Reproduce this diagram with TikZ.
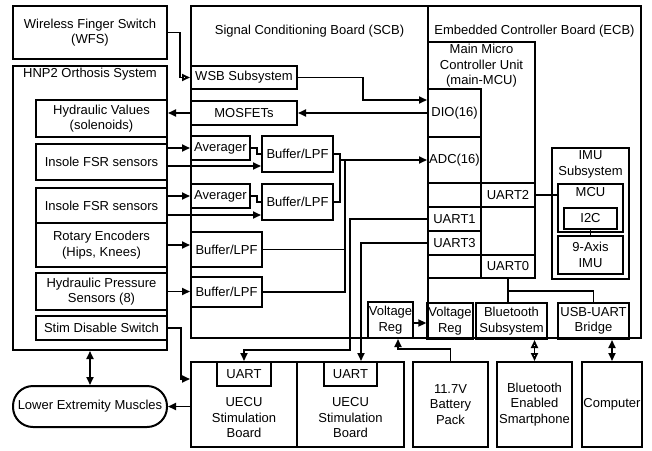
\documentclass[tikz,border=0pt]{standalone}
\usepackage{fontspec}
\setmainfont{Liberation Sans}
\usetikzlibrary{arrows.meta,positioning}

\tikzset{
  blk/.style={draw, line width=2pt, inner sep=1pt, align=center, font=\fontsize{13}{15.5}\selectfont},
  txt/.style={inner sep=0pt, align=center, font=\fontsize{13}{15.5}\selectfont},
  conn/.style={line width=1.8pt},
  arr/.style={conn, -{Triangle[length=8pt,width=7pt]}},
  darr/.style={conn, {Triangle[length=8pt,width=7pt]}-{Triangle[length=8pt,width=7pt]}},
  oarr/.style={conn, -{Triangle[open,length=8pt,width=7pt]}},
  odarr/.style={conn, {Triangle[open,length=8pt,width=7pt]}-{Triangle[open,length=8pt,width=7pt]}}
}

\begin{document}
\begin{tikzpicture}[x=1pt, y=-1pt]
    \useasboundingbox (0,0) rectangle (652,450);

    % Orthosis side
    \node[blk, minimum width=154pt, minimum height=53pt] (wfs) at (90,32.5) {Wireless Finger Switch\\(WFS)};
    \node[blk, minimum width=154pt, minimum height=284pt] (hnp) at (90,208) {};
    \node[txt] (hnptitle) at ([yshift=-9pt]hnp.north) {HNP2 Orthosis System};
    \node[blk, minimum width=131pt, minimum height=37pt] (hv) at (101.5,118.5) {Hydraulic Values\\(solenoids)};
    \node[blk, minimum width=131pt, minimum height=36pt] (fsra) at (101.5,162) {Insole FSR sensors};
    \node[blk, minimum width=131pt, minimum height=35pt] (fsrb) at (101.5,205.5) {Insole FSR sensors};
    \node[blk, minimum width=131pt, minimum height=44pt] (enc) at (101.5,245) {Rotary Encoders\\(Hips, Knees)};
    \node[blk, minimum width=131pt, minimum height=37pt] (hps) at (101.5,291.5) {Hydraulic Pressure\\Sensors (8)};
    \node[blk, minimum width=131pt, minimum height=24pt] (sds) at (101.5,328) {Stim Disable Switch};
    \node[blk, minimum width=154pt, minimum height=41pt, rounded corners=20pt] (lem) at (90,406.5) {Lower Extremity Muscles};

    % Signal conditioning board
    \node[blk, minimum width=237pt, minimum height=332pt] (scb) at (309.5,172) {};
    \node[txt] (scbtitle) at ([yshift=-26pt]scb.north) {Signal Conditioning Board (SCB)};
    \node[blk, minimum width=106pt, minimum height=23pt] (wsb) at (244,77.5) {WSB Subsystem};
    \node[blk, minimum width=106pt, minimum height=24pt] (mosfet) at (244,113) {MOSFETs};
    \node[blk, minimum width=59pt, minimum height=24pt] (avga) at (220.5,148) {Averager};
    \node[blk, minimum width=71pt, minimum height=36pt] (bufa) at (297.5,154) {Buffer/LPF};
    \node[blk, minimum width=59pt, minimum height=24pt] (avgb) at (220.5,196) {Averager};
    \node[blk, minimum width=71pt, minimum height=36pt] (bufb) at (297.5,202) {Buffer/LPF};
    \node[blk, minimum width=71pt, minimum height=35pt] (bufc) at (226.5,249.5) {Buffer/LPF};
    \node[blk, minimum width=71pt, minimum height=30pt] (bufd) at (226.5,292) {Buffer/LPF};
    \node[blk, minimum width=45pt, minimum height=36pt] (vrs) at (390.5,320) {Voltage\\Reg};

    % Embedded controller board
    \node[blk, minimum width=213pt, minimum height=332pt] (ecb) at (534.5,172) {};
    \node[txt] (ecbtitle) at ([yshift=-26pt]ecb.north) {Embedded Controller Board (ECB)};
    \node[blk, minimum width=107pt, minimum height=236pt] (mcu) at (481.5,160) {};
    \node[txt] (mcutitle) at ([yshift=-25pt]mcu.north) {Main Micro\\Controller Unit\\(main-MCU)};
    \node[blk, minimum width=53pt, minimum height=48pt] (dio) at (454.5,113) {DIO(16)};
    \node[blk, minimum width=53pt, minimum height=46pt] (adc) at (454.5,160) {ADC(16)};
    \node[blk, minimum width=53pt, minimum height=24pt] (cella) at (454.5,195) {};
    \node[blk, minimum width=54pt, minimum height=24pt] (uartii) at (508,195) {UART2};
    \node[blk, minimum width=53pt, minimum height=24pt] (uarti) at (454.5,219) {UART1};
    \node[blk, minimum width=53pt, minimum height=24pt] (uartiii) at (454.5,243) {UART3};
    \node[blk, minimum width=53pt, minimum height=23pt] (cellb) at (454.5,266.5) {};
    \node[blk, minimum width=54pt, minimum height=23pt] (uart0) at (508,266.5) {UART0};
    \node[blk, minimum width=77pt, minimum height=131pt] (imu) at (590.5,213.5) {};
    \node[txt] (imutitle) at ([yshift=-17.5pt]imu.north) {IMU\\Subsystem};
    \node[blk, minimum width=65pt, minimum height=48pt] (imcu) at (590.5,208) {};
    \node[txt] (imcutitle) at ([yshift=-9pt]imcu.north) {MCU};
    \node[blk, minimum width=53pt, minimum height=21pt] (iic) at (590.5,218.5) {I2C};
    \node[blk, minimum width=65pt, minimum height=38pt] (nine) at (590.5,255) {9-Axis\\IMU};
    \node[blk, minimum width=44pt, minimum height=36pt] (vre) at (450,321) {Voltage\\Reg};
    \node[blk, minimum width=71pt, minimum height=36pt] (bts) at (511.5,321) {Bluetooth\\Subsystem};
    \node[blk, minimum width=71pt, minimum height=36pt] (usb) at (593.5,321) {USB-UART\\Bridge};

    % Bottom row
    \node[blk, minimum width=106pt, minimum height=85pt] (uecua) at (244,404.5) {};
    \node[txt] (uecuatext) at ([yshift=-13.5pt]uecua.center) {UECU\\Stimulation\\Board};
    \node[blk, minimum width=54pt, minimum height=24pt] (uarta) at (244,374) {UART};
    \node[blk, minimum width=107pt, minimum height=85pt] (uecub) at (350.5,404.5) {};
    \node[txt] (uecubtext) at ([yshift=-13.5pt]uecub.center) {UECU\\Stimulation\\Board};
    \node[blk, minimum width=53pt, minimum height=24pt] (uartb) at (350.5,374) {UART};
    \node[blk, minimum width=75pt, minimum height=85pt] (bat) at (450.5,404.5) {11.7V\\Battery\\Pack};
    \node[blk, minimum width=75pt, minimum height=85pt] (phone) at (534.5,404.5) {Bluetooth\\Enabled\\Smartphone};
    \node[blk, minimum width=60pt, minimum height=85pt] (comp) at (612,404.5) {Computer};

    % Switch and valve lines
    \draw[oarr] (wfs.east) -- ++(12,0) |- (wsb.west);
    \draw[arr] (wsb.east) -- ++(65,0) |- ([yshift=13pt]dio.west);
    \draw[arr] (dio.west) -- (mosfet.east);
    \draw[arr] (mosfet.west) -- (mosfet.west -| hv.east);

    % Sensor lines
    \draw[arr] (fsra.east |- avga.west) -- (avga.west);
    \draw[arr] ([yshift=-4pt]fsra.east) -- ([yshift=-12pt]bufa.west);
    \draw[conn] (avga.east) -- ++(6,0) |- (bufa.west);
    \draw[arr] (fsrb.east |- avgb.west) -- (avgb.west);
    \draw[arr] ([yshift=-9.5pt]fsrb.east) -- ([yshift=-13pt]bufb.west);
    \draw[conn] (avgb.east) -- ++(6,0) |- (bufb.west);
    \draw[arr] (enc.east) -- (enc.east -| bufc.west);
    \draw[arr] (hps.east) -- (hps.east -| bufd.west);

    % Buffer outputs to ADC
    \coordinate (bus) at ([xshift=11pt]bufa.east |- adc.west);
    \draw[conn] (bufa.east) -- ++(6,0) |- (bufb.east);
    \draw[arr] ([xshift=6pt]bufa.east |- adc.west) -- (adc.west);
    \draw[conn] (bufd.east) -| (bus);
    \draw[conn] (bufc.east) -- (bufc.east -| bus);

    % Stimulation lines
    \draw[arr] (uarti.west) -| ++(-77,131) -| (uarta.north);
    \draw[arr] (uartiii.west) -| ([xshift=10.5pt]uartb.north);
    \draw[arr] (sds.east) -- ++(13,0) |- ([yshift=25.5pt]uecua.west);
    \draw[arr] (uecua.west |- lem.east) -- (lem.east);
    \draw[darr] (hnp.south) -- (lem.north);

    % Power
    \draw[arr] ([yshift=-3pt]vrs.east) -- ([yshift=-3pt]vrs.east -| vre.west);
    \draw[arr] (bat.north) -- ++(0,-12) -| ([xshift=7.5pt]vrs.south);

    % Communication
    \draw[conn] (uartii.east) -- (uartii.east -| imcu.west);
    \draw[conn] (iic.south) -- (nine.north);
    \draw[conn] (uart0.south) -- (uart0.south |- bts.north);
    \draw[conn] (uart0.south) ++(0,12) -| (usb.north);
    \draw[odarr] (phone.north |- bts.south) -- (phone.north);
    \draw[darr] (comp.north |- usb.south) -- (comp.north);
\end{tikzpicture}
\end{document}
